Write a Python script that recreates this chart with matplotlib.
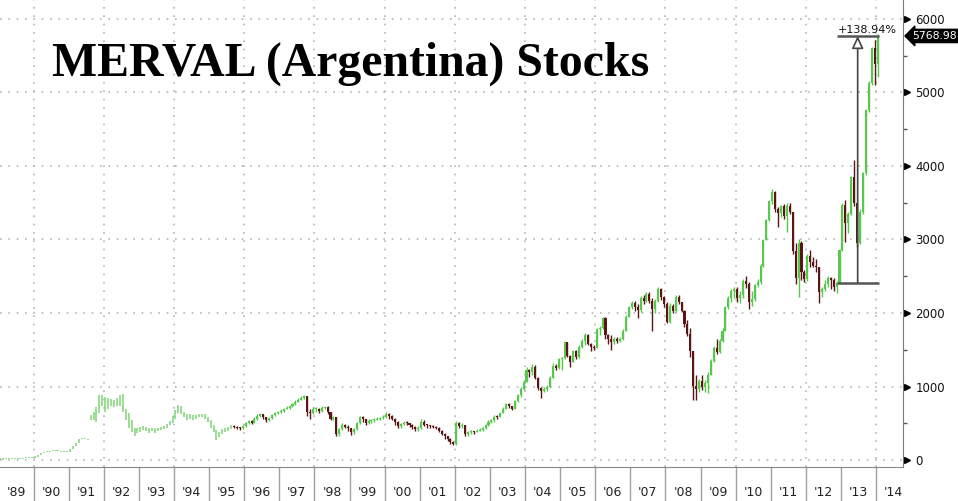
import matplotlib
matplotlib.use("Agg")
import matplotlib.pyplot as plt
import matplotlib.transforms as mtransforms
import numpy as np

# monthly MERVAL candles, Jan 1989 .. Jan 2014 (open = previous close)
close = [
    8, 8, 9, 10, 12, 14, 16, 20, 24, 28, 32, 36,  # 1989
    40, 70, 100, 110, 113, 125, 136, 130, 120, 113, 110, 115,  # 1990
    150, 190, 230, 285, 290, 285, 280, 590, 620, 700, 850, 800,  # 1991
    700, 820, 760, 800, 760, 880, 660, 580, 470, 410, 380, 420,  # 1992
    420, 440, 410, 400, 420, 390, 410, 430, 440, 470, 510, 560,  # 1993
    650, 720, 640, 620, 580, 600, 570, 590, 600, 610, 580, 540,  # 1994
    470, 400, 330, 360, 400, 410, 430, 460, 450, 440, 430, 460,  # 1995
    500, 530, 510, 560, 600, 620, 580, 540, 570, 610, 640, 650,  # 1996
    670, 690, 710, 730, 760, 790, 820, 850, 870, 660, 640, 690,  # 1997
    700, 670, 710, 720, 650, 560, 580, 350, 420, 470, 450, 430,  # 1998
    380, 420, 500, 580, 560, 500, 530, 540, 550, 560, 570, 590,  # 1999
    620, 600, 560, 520, 460, 490, 510, 500, 480, 450, 420, 430,  # 2000
    520, 480, 470, 460, 450, 440, 400, 360, 320, 290, 250, 220,  # 2001
    500, 460, 470, 350, 380, 390, 380, 400, 410, 430, 470, 520,  # 2002
    540, 590, 580, 640, 690, 760, 730, 700, 800, 880, 960, 1060,  # 2003
    1220, 1200, 1270, 1120, 980, 940, 960, 1000, 1120, 1280, 1250, 1370,  # 2004
    1390, 1600, 1420, 1330, 1480, 1400, 1540, 1620, 1700, 1580, 1540, 1520,  # 2005
    1780, 1800, 1930, 1700, 1650, 1600, 1640, 1620, 1650, 1760, 1950, 2080,  # 2006
    2140, 2080, 2040, 2210, 2170, 2260, 2170, 2060, 2170, 2330, 2220, 2120,  # 2007
    1880, 2100, 2030, 2220, 2150, 2030, 1850, 1720, 1480, 1010, 960, 1080,  # 2008
    1000, 1050, 1150, 1350, 1530, 1470, 1620, 1750, 2080, 2200, 2300, 2320,  # 2009
    2210, 2240, 2430, 2400, 2150, 2190, 2380, 2420, 2640, 2990, 3260, 3520,  # 2010
    3650, 3420, 3360, 3450, 3320, 3460, 3380, 2850, 2470, 2950, 2560, 2460,  # 2011
    2780, 2690, 2640, 2620, 2290, 2330, 2400, 2470, 2450, 2350, 2414.4, 2854,  # 2012
    3470, 3220, 3340, 3850, 3490, 2950, 3380, 3900, 4760, 5130, 5600, 5390,  # 2013
    5768.98,  # 2014
]
high = [
    9, 9, 10, 11, 13, 15, 17, 21, 25, 29, 33, 38,
    42, 72, 102, 113, 116, 128, 140, 138, 130, 118, 114, 118,
    152, 194, 234, 290, 296, 292, 288, 610, 660, 720, 884, 884,
    860, 840, 830, 820, 850, 890, 898, 690, 640, 540, 440, 440,
    450, 460, 450, 430, 440, 430, 430, 450, 460, 490, 530, 600,
    680, 750, 730, 660, 630, 620, 610, 610, 620, 630, 620, 590,
    540, 480, 410, 380, 420, 430, 450, 480, 470, 460, 450, 480,
    520, 550, 540, 580, 620, 640, 630, 590, 590, 630, 660, 670,
    690, 710, 730, 750, 780, 810, 840, 870, 880, 870, 700, 720,
    720, 710, 730, 740, 730, 660, 600, 590, 440, 500, 490, 470,
    440, 440, 520, 600, 600, 560, 560, 560, 570, 580, 590, 610,
    650, 640, 610, 570, 530, 510, 530, 530, 510, 490, 460, 460,
    560, 540, 490, 480, 480, 460, 450, 410, 370, 330, 300, 260,
    530, 520, 500, 470, 400, 410, 400, 420, 430, 450, 490, 540,
    560, 610, 610, 660, 720, 780, 770, 740, 820, 900, 990, 1090,
    1260, 1240, 1300, 1290, 1130, 1000, 990, 1020, 1140, 1320, 1300, 1390,
    1400, 1620, 1610, 1430, 1500, 1500, 1570, 1640, 1730, 1720, 1590, 1560,
    1800, 1820, 1950, 1940, 1720, 1700, 1680, 1680, 1680, 1780, 1970, 2100,
    2160, 2170, 2120, 2230, 2240, 2290, 2290, 2200, 2190, 2350, 2340, 2230,
    2150, 2130, 2120, 2240, 2250, 2150, 2040, 1900, 1790, 1480, 1150, 1100,
    1150, 1090, 1200, 1370, 1550, 1640, 1650, 1790, 2090, 2230, 2320, 2360,
    2360, 2300, 2460, 2500, 2420, 2300, 2400, 2460, 2660, 3000, 3280, 3540,
    3690, 3660, 3440, 3470, 3480, 3490, 3500, 3380, 2950, 3000, 2980, 2580,
    2800, 2860, 2760, 2740, 2630, 2360, 2450, 2500, 2490, 2470, 2440, 2870,
    3490, 3540, 3380, 3870, 4080, 3500, 3420, 3920, 4780, 5150, 5620, 5714,
    5790,
]
low = [
    7, 7, 8, 8, 10, 12, 14, 16, 20, 24, 28, 32,
    34, 40, 70, 100, 108, 112, 124, 126, 118, 110, 106, 108,
    114, 150, 188, 228, 282, 280, 276, 540, 544, 520, 640, 740,
    660, 690, 740, 720, 730, 740, 650, 550, 430, 380, 320, 370,
    380, 410, 390, 370, 390, 370, 390, 410, 420, 440, 470, 510,
    560, 640, 620, 580, 550, 560, 550, 560, 580, 580, 560, 520,
    440, 380, 272, 310, 350, 380, 400, 420, 430, 420, 410, 420,
    450, 490, 490, 500, 550, 580, 560, 520, 530, 560, 600, 620,
    640, 660, 690, 700, 720, 750, 790, 810, 830, 600, 560, 630,
    650, 640, 660, 690, 630, 540, 540, 320, 330, 410, 430, 400,
    340, 360, 410, 490, 520, 470, 490, 510, 520, 540, 540, 560,
    570, 560, 540, 470, 430, 440, 480, 470, 450, 420, 390, 400,
    420, 460, 440, 430, 430, 420, 380, 340, 290, 260, 220, 200,
    210, 440, 430, 330, 330, 360, 360, 380, 390, 400, 420, 460,
    500, 520, 560, 580, 640, 690, 710, 680, 700, 790, 860, 950,
    1060, 1130, 1150, 1100, 950, 840, 920, 940, 990, 1110, 1220, 1240,
    1230, 1380, 1400, 1270, 1330, 1380, 1390, 1530, 1560, 1570, 1480, 1490,
    1530, 1700, 1780, 1650, 1580, 1500, 1580, 1590, 1600, 1630, 1750, 1940,
    2060, 2030, 1930, 2020, 2120, 2150, 2140, 1750, 2000, 2150, 2180, 2080,
    1860, 1870, 2000, 2010, 2120, 2010, 1810, 1690, 1400, 816, 820, 930,
    950, 920, 910, 1150, 1340, 1440, 1460, 1600, 1750, 2050, 2150, 2200,
    2150, 2140, 2200, 2340, 2060, 2100, 2170, 2360, 2400, 2620, 2990, 3250,
    3480, 3370, 3170, 3300, 3280, 3100, 3340, 2800, 2400, 2220, 2450, 2420,
    2440, 2620, 2620, 2560, 2130, 2220, 2300, 2360, 2330, 2300, 2270, 2400,
    2850, 2970, 3090, 3330, 3450, 2900, 2940, 3350, 3880, 4740, 5100, 5102,
    5210,
]
first_open = 7
gap_month = 31      # Aug 1991, series jumps
gap_open = 560
bars_until = 80     # before Sep 1995 only high-low bars are shown
base_month = 286    # Nov 2012, base of the % move
year_labels = ["'89", "'90", "'91", "'92", "'93", "'94", "'95", "'96", "'97",
               "'98", "'99", "'00", "'01", "'02", "'03", "'04", "'05", "'06",
               "'07", "'08", "'09", "'10", "'11", "'12", "'13", "'14"]
y_ticks = [0, 1000, 2000, 3000, 4000, 5000, 6000]

c = np.array(close, dtype=float)
h = np.array(high, dtype=float)
l = np.array(low, dtype=float)
o = np.r_[first_open, c[:-1]]
o[gap_month] = gap_open
h = np.maximum(h, np.maximum(o, c))
l = np.minimum(l, np.minimum(o, c))
x = np.arange(len(c)) + 0.5

up_col = "#55c94b"
dn_col = "#5b1515"
bar_col = "#7fd477"
cols = [up_col if cc >= oo else dn_col for oo, cc in zip(o, c)]

fig = plt.figure(figsize=(9.58, 5.01), dpi=100)
ax = fig.add_axes([0, 34 / 501, 903 / 958, 467 / 501])
ax.set_xlim(0.513, 309.2)
ax.set_ylim(-95, 6258)

grid_kw = dict(color="#b4b4b4", lw=1.2, ls=(0, (1, 4)), zorder=0)
for yv in y_ticks:
    ax.axhline(yv, **grid_kw)
for m in range(12, 301, 24):
    ax.axvline(m, **grid_kw)

# early part: plain high-low bars
k = bars_until
ax.vlines(x[:k], l[:k], np.maximum(h[:k], l[:k] + 14), colors=bar_col, lw=1.1, zorder=2)

# candles
ax.vlines(x[k:], l[k:], h[k:], colors=cols[k:], lw=1, zorder=2)
body = np.maximum(np.abs(c[k:] - o[k:]), 14)
ax.bar(x[k:], body, bottom=np.minimum(o[k:], c[k:]), width=0.7, color=cols[k:],
       lw=0, zorder=3)

# % move annotation
x0 = base_month + 0.5
x1 = x[-1] + 0.4
xm = (x0 + x1) / 2
base = c[base_month]
last = c[-1]
ax.hlines([base, last], x0, x1, colors="#555555", lw=1.8, zorder=4)
ax.annotate("", xy=(xm, last), xytext=(xm, base),
            arrowprops=dict(arrowstyle="-|>,head_width=0.35,head_length=0.75",
                            fc="white", ec="#444444", lw=1.2, shrinkA=0, shrinkB=0),
            zorder=5)
pct = (last / base - 1) * 100
ax.annotate(f"+{pct:.2f}%", xy=(xm + 3.4, last), xytext=(0, 0.5),
            textcoords="offset points", ha="center", va="bottom", fontsize=8,
            color="#111111", zorder=6)

# axes and ticks
for s in ["top", "left"]:
    ax.spines[s].set_visible(False)
ax.spines["right"].set_color("#7a7a7a")
ax.spines["bottom"].set_color("#8a8a8a")
ax.set_xticks([])
ax.yaxis.tick_right()
ax.set_yticks(y_ticks)
ax.set_yticklabels([str(v) for v in y_ticks])
ax.set_yticks(range(500, 6001, 1000), minor=True)
ax.tick_params(axis="y", which="major", length=0, pad=9, labelsize=8.5, labelcolor="#111111")
ax.tick_params(axis="y", which="minor", length=3, width=1, color="#555555")

tr = mtransforms.blended_transform_factory(ax.transAxes, ax.transData)
ax.plot([1 + 3.5 / 903] * len(y_ticks), y_ticks, transform=tr, ls="none",
        marker=">", ms=5, color="black", clip_on=False)

ax.text(1 + 9 / 903, last, f"{last:.2f}", transform=tr, ha="left", va="center",
        fontsize=7.8, color="white",
        bbox=dict(boxstyle="larrow,pad=0.15", fc="black", ec="black"))

trx = mtransforms.blended_transform_factory(ax.transData, ax.transAxes)
for k in range(1, 26):
    ax.plot([12 * k, 12 * k], [0, -34 / 467], transform=trx, color="#a0a0a0",
            lw=1, clip_on=False)
for k, lab in enumerate(year_labels):
    ax.text(12 * k + 6, -25 / 467, lab, transform=trx, ha="center", va="center",
            fontsize=9, color="#222222")

fig.text(52 / 958, 1 - 76 / 501, "MERVAL (Argentina) Stocks", fontsize=34.4,
         fontweight="bold", family="Liberation Serif", va="baseline", color="black")

fig.savefig("out.png", dpi=100)
